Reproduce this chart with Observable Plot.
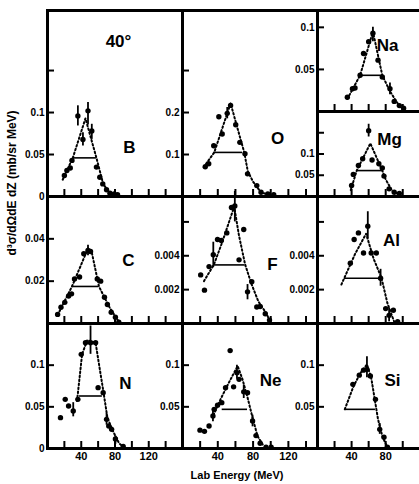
<!DOCTYPE html>
<html><head><meta charset="utf-8">
<script src="https://cdn.jsdelivr.net/npm/d3@7"></script>
<script src="https://cdn.jsdelivr.net/npm/@observablehq/plot@0.6"></script>
<style>
body{margin:0;background:#fff;}
#wrap{position:relative;width:419px;height:484px;overflow:hidden;background:#fff;font-family:"Liberation Sans",Arial,sans-serif;font-weight:bold;color:#000;}
#wrap svg{position:absolute;}
.ylab{position:absolute;left:12px;top:183px;transform:translate(-50%,-50%) rotate(-90deg);white-space:nowrap;font-size:12px;}
.xlab{position:absolute;left:237px;top:475px;transform:translate(-50%,-50%);white-space:nowrap;font-size:11px;}
</style></head><body><div id="wrap"><div class="ylab">d³σ/dΩdE dZ (mb/sr MeV)</div><div class="xlab">Lab Energy (MeV)</div></div>
<script>
// ---- data: [energy MeV, value] ----
const B_pts = [[20,0.025],[23,0.031],[27,0.034],[29,0.043],[36,0.096],[42,0.068],[48,0.102],[52.5,0.078],[58,0.035],[62,0.023],[65.5,0.015],[70,0.008],[74,0.004],[79,0.003],[83,0.002]];
const B_fit = [[18,0.02],[30,0.046],[45,0.093],[58,0.046],[66,0.015],[75,0.002],[82,0.0005]];
const B_err = [[36,0.084,0.108],[48,0.085,0.112],[42,0.06,0.076],[52.5,0.068,0.086]];
const B_fwhm = [30,58,0.046];
const B_yticks = [0,0.05,0.1,0.15];
const B_ylabels = ["0","0.05","0.1",""];

const O_pts = [[25.8,0.071],[29.7,0.078],[35.4,0.121],[41.2,0.19],[45,0.149],[50.7,0.198],[54.5,0.217],[60.3,0.171],[65,0.129],[70.8,0.102],[73.7,0.054],[84.2,0.026],[89,0.01],[96.7,0.006],[103.4,0.004]];
const O_fit = [[24,0.07],[36,0.105],[54.5,0.222],[62,0.165],[70,0.105],[74,0.06],[80,0.035],[89,0.01],[100,0.002]];
const O_err = [[50.7,0.185,0.212]];
const O_fwhm = [35.4,68,0.105];
const O_yticks = [0.1,0.2,0.3];
const O_ylabels = ["0.1","0.2",""];

const Na_pts = [[35,0.017],[41,0.027],[44,0.028],[50,0.043],[54,0.069],[60,0.083],[65,0.093],[71,0.061],[76,0.041],[85,0.027],[90,0.012],[96,0.007],[101,0.004]];
const Na_fit = [[35,0.015],[50,0.043],[65,0.095],[76,0.043],[85,0.024],[97,0.005],[101,0.002]];
const Na_err = [[65,0.083,0.1],[85,0.02,0.034]];
const Na_fwhm = [50,76,0.043];
const Na_yticks = [0.05,0.1];
const Na_ylabels = ["0.05","0.1"];

const Mg_pts = [[40,0.026],[42,0.052],[48,0.073],[53,0.089],[60,0.155],[64,0.086],[72,0.077],[76,0.067],[78,0.048],[84,0.018],[90,0.01],[96,0.007]];
const Mg_fit = [[39,0.015],[46,0.061],[62,0.125],[76,0.061],[80,0.04],[88,0.012],[97,0.004]];
const Mg_err = [[60,0.14,0.17]];
const Mg_fwhm = [46,76,0.061];
const Mg_yticks = [0.05,0.1,0.15];
const Mg_ylabels = ["0.05","0.1",""];

const C_pts = [[12,0.0043],[16,0.0077],[20.5,0.010],[25,0.013],[28.5,0.014],[32,0.021],[38,0.022],[43,0.033],[48,0.0345],[51,0.034],[59,0.021],[63,0.020],[67.5,0.0124],[71,0.009],[75.5,0.0053],[80.5,0.003],[84.5,0.0006]];
const C_fit = [[12,0.004],[29,0.0175],[48,0.0355],[52,0.0345],[61,0.0175],[73,0.008],[85,0.0005]];
const C_err = [[48,0.032,0.037]];
const C_fwhm = [29,61,0.0175];
const C_yticks = [0.02,0.04];
const C_ylabels = ["0.02","0.04"];

const F_pts = [[20.6,0.00287],[24.9,0.00197],[30.1,0.00336],[34.9,0.00406],[39.7,0.00496],[44,0.0049],[50.2,0.00535],[55.5,0.00685],[59.3,0.00694],[64.1,0.00376],[69.4,0.00555],[73.7,0.00187],[78.5,0.00247],[84.2,0.00097],[88,0.001],[93.8,0.00058],[98.6,0.0002]];
const F_fit = [[24.3,0.0025],[35.8,0.0035],[45,0.0048],[58.6,0.0069],[64,0.0052],[70.9,0.0035],[77.7,0.0024],[86,0.0013],[95,0.0006],[98.6,0.0002]];
const F_err = [[34.9,0.0033,0.0048],[59.3,0.006,0.0078],[73.7,0.0014,0.0023]];
const F_fwhm = [35.9,70.8,0.00346];
const F_yticks = [0.002,0.004,0.006];
const F_ylabels = ["0.002","0.004",""];

const Al_pts = [[38.5,0.00356],[43,0.00496],[48,0.00535],[54,0.00416],[59,0.00575],[63,0.00416],[69,0.00416],[74,0.00267],[80,0.00088],[84,0.00048],[89,0.00078],[94,0.0001]];
const Al_fit = [[28,0.0023],[44,0.0041],[57,0.0053],[66,0.0038],[75,0.0027],[82,0.0012],[90,0.0001]];
const Al_err = [[59,0.005,0.0066],[74,0.0022,0.0032],[84,0.0001,0.0009]];
const Al_fwhm = [31.7,75,0.00267];
const Al_yticks = [0.002,0.004,0.006];
const Al_ylabels = ["0.002","0.004",""];

const N_pts = [[15.4,0.037],[21,0.059],[25,0.051],[30.5,0.045],[36,0.059],[40,0.113],[45,0.127],[51,0.127],[57,0.127],[60,0.073],[66,0.067],[70,0.035],[72.6,0.027],[76,0.023],[80.5,0.0115],[89.7,0.0024]];
const N_fit = [[35,0.057],[41,0.113],[47,0.13],[57,0.127],[62,0.095],[66,0.07],[71,0.037],[78,0.02],[85,0.006],[90,0.002]];
const N_err = [[51,0.113,0.147],[30.5,0.038,0.055],[70,0.028,0.042],[80.5,0.005,0.015]];
const N_fwhm = [38,65,0.063];
const N_yticks = [0,0.05,0.1];
const N_ylabels = ["0","0.05","0.1"];

const Ne_pts = [[19.8,0.022],[24.9,0.0206],[30.1,0.027],[34.5,0.039],[35.9,0.047],[39.7,0.052],[44.5,0.055],[48.8,0.073],[54,0.1175],[57.9,0.074],[61.7,0.091],[64.1,0.083],[69.4,0.068],[73.7,0.067],[79.4,0.033],[83.3,0.0155],[88,0.0063],[94.7,0.0016],[100.5,0.0016]];
const Ne_fit = [[35,0.04],[44,0.061],[53,0.08],[62.5,0.099],[68,0.083],[74,0.06],[79.4,0.037],[85,0.015],[92,0.003]];
const Ne_err = [[61.7,0.083,0.1],[34.5,0.032,0.046],[79.4,0.026,0.04],[69.4,0.06,0.076]];
const Ne_fwhm = [45,73.7,0.047];
const Ne_yticks = [0.05,0.1];
const Ne_ylabels = ["0.05","0.1"];

const Si_pts = [[41.5,0.077],[49,0.088],[54,0.094],[58,0.095],[62,0.087],[68,0.059],[73,0.023],[78,0.0135],[82,0.0016]];
const Si_fit = [[32,0.047],[42,0.074],[50,0.09],[58,0.101],[63,0.085],[67,0.06],[71,0.035],[76,0.015],[82,0.001]];
const Si_err = [[58,0.085,0.11],[73,0.017,0.03]];
const Si_fwhm = [32.5,68,0.047];
const Si_yticks = [0.05,0.1];
const Si_ylabels = ["0.05","0.1"];

const xTicks12 = [20,40,60,80,100,120,140];
const xTicks3 = [20,40,60,80,100];
const xLabels12 = [40,80,120];
const xLabels3 = [40,80];

// ---- layout ----
const COLS = [{L:47,R:182,dom:[0,160],ticks:xTicks12,labs:xLabels12},
              {L:182,R:317,dom:[0,153],ticks:xTicks12,labs:xLabels12},
              {L:317,R:421,dom:[0,122],ticks:xTicks3,labs:xLabels3}];

const panels = [
  {name:"B", col:0, top:10, bottom:196, ydom:[0,0.2215], yt:B_yticks, yl:B_ylabels, pts:B_pts, fit:B_fit, err:B_err, fwhm:B_fwhm, lab:[82,130], extra:true},
  {name:"O", col:1, top:10, bottom:196, ydom:[0,0.443], yt:O_yticks, yl:O_ylabels, pts:O_pts, fit:O_fit, err:O_err, fwhm:O_fwhm, lab:[95,121]},
  {name:"Na", col:2, top:10, bottom:111, ydom:[0,0.12], yt:Na_yticks, yl:Na_ylabels, pts:Na_pts, fit:Na_fit, err:Na_err, fwhm:Na_fwhm, lab:[70,28]},
  {name:"Mg", col:2, top:111, bottom:196, ydom:[0,0.2], yt:Mg_yticks, yl:Mg_ylabels, pts:Mg_pts, fit:Mg_fit, err:Mg_err, fwhm:Mg_fwhm, lab:[72,21]},
  {name:"C", col:0, top:196, bottom:323, ydom:[0,0.06], yt:C_yticks, yl:C_ylabels, pts:C_pts, fit:C_fit, err:C_err, fwhm:C_fwhm, lab:[81,57]},
  {name:"F", col:1, top:196, bottom:323, ydom:[0,0.0075], yt:F_yticks, yl:F_ylabels, pts:F_pts, fit:F_fit, err:F_err, fwhm:F_fwhm, lab:[90,61]},
  {name:"Al", col:2, top:196, bottom:323, ydom:[0,0.0075], yt:Al_yticks, yl:Al_ylabels, pts:Al_pts, fit:Al_fit, err:Al_err, fwhm:Al_fwhm, lab:[74,37]},
  {name:"N", col:0, top:323, bottom:448, ydom:[0,0.15], yt:N_yticks, yl:N_ylabels, pts:N_pts, fit:N_fit, err:N_err, fwhm:N_fwhm, lab:[78,53], bottomRow:true},
  {name:"Ne", col:1, top:323, bottom:448, ydom:[0,0.15], yt:Ne_yticks, yl:Ne_ylabels, pts:Ne_pts, fit:Ne_fit, err:Ne_err, fwhm:Ne_fwhm, lab:[88,50], bottomRow:true},
  {name:"Si", col:2, top:323, bottom:448, ydom:[0,0.15], yt:Si_yticks, yl:Si_ylabels, pts:Si_pts, fit:Si_fit, err:Si_err, fwhm:Si_fwhm, lab:[75,50], bottomRow:true}
];

const wrap = document.getElementById("wrap");
const ml = 40, mr = 4, mt = 4, mb = 22;

for (const p of panels) {
  const c = COLS[p.col];
  const labMap = new Map(p.yt.map((v, i) => [v, p.yl[i]]));
  const marks = [
    Plot.axisY(p.yt, {tickSize: 7, insetLeft: 7, tickFormat: () => "", strokeWidth: 2}),
    Plot.axisY(p.yt, {tickSize: 0, tickPadding: 3, tickFormat: d => labMap.get(d), fontSize: 10, fontWeight: "bold"}),
    Plot.axisX(c.ticks, {tickSize: 7, insetBottom: 7, tickFormat: () => "", strokeWidth: 2}),
    Plot.line(p.fit, {x: d => d[0], y: d => d[1], strokeWidth: 2, strokeDasharray: "1.6,2.4", stroke: "black"}),
    Plot.ruleY([p.fwhm], {y: d => d[2], x1: d => d[0], x2: d => d[1], strokeWidth: 1.6, stroke: "black"}),
    Plot.ruleX(p.err, {x: d => d[0], y1: d => d[1], y2: d => d[2], strokeWidth: 1.8, stroke: "black"}),
    Plot.dot(p.pts, {x: d => d[0], y: d => d[1], r: 2.7, fill: "black", stroke: null}),
    Plot.text([p.name], {text: d => d, frameAnchor: "top-left", dx: p.lab[0], dy: p.lab[1], fontSize: 17, fontWeight: "bold", textAnchor: "middle"}),
    Plot.frame({strokeWidth: 3, stroke: "black"})
  ];
  if (p.bottomRow) marks.push(Plot.axisX(c.labs, {tickSize: 0, tickPadding: 4, fontSize: 11, fontWeight: "bold"}));
  if (p.extra) marks.push(Plot.text(["40°"], {text: d => d, frameAnchor: "top-left", dx: 71, dy: 24, fontSize: 17, fontWeight: "bold", textAnchor: "middle"}));
  const svg = Plot.plot({
    width: (c.R - c.L) + ml + mr,
    height: (p.bottom - p.top) + mt + mb,
    marginLeft: ml, marginRight: mr, marginTop: mt, marginBottom: mb,
    x: {domain: c.dom, label: null},
    y: {domain: p.ydom, label: null},
    style: {background: "transparent", overflow: "visible", color: "black", fontFamily: "'Liberation Sans', Arial, sans-serif", fontWeight: "bold", fontSize: "10px", maxWidth: "none"},
    marks
  });
  svg.style.position = "absolute";
  svg.style.left = (c.L - ml) + "px";
  svg.style.top = (p.top - mt) + "px";
  wrap.appendChild(svg);
}
</script>
</body></html>
